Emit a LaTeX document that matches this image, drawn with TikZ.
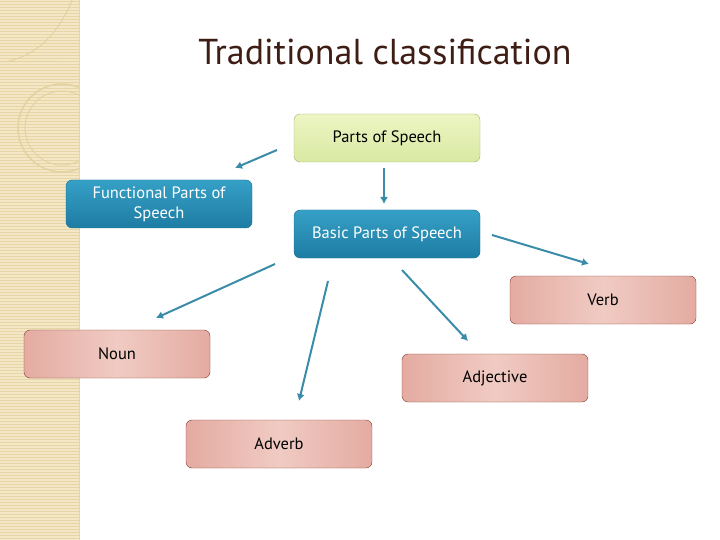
\documentclass[tikz,border=0pt]{standalone}
\usepackage{fontspec}
\setmainfont{PT Sans}
\usetikzlibrary{arrows.meta}
\definecolor{strip}{HTML}{F3E7C6}
\definecolor{stripline}{HTML}{E6D5A6}
\definecolor{ringcol}{HTML}{E4D2A0}
\definecolor{titlecol}{HTML}{3E1E14}
\definecolor{tealtop}{HTML}{36A0C6}
\definecolor{tealbot}{HTML}{1E7CA3}
\definecolor{tealedge}{HTML}{1C6E90}
\definecolor{greentop}{HTML}{EDF5C4}
\definecolor{greenbot}{HTML}{D9E9A2}
\definecolor{greenedge}{HTML}{A3B46A}
\definecolor{pinkside}{HTML}{E4ABA1}
\definecolor{pinkmid}{HTML}{F0CBC3}
\definecolor{pinkedge}{HTML}{7E3E2E}
\definecolor{arrowcol}{HTML}{3A8CA8}
\tikzset{
  box/.style={rounded corners=6pt, minimum width=186pt, minimum height=48pt,
    inner sep=2pt, font=\fontsize{16.5}{21}\selectfont, align=center},
  rootbox/.style={box, draw=greenedge, top color=greentop, bottom color=greenbot},
  groupbox/.style={box, draw=tealedge, top color=tealtop, bottom color=tealbot, text=white},
  wordbox/.style={box, draw=pinkedge, left color=pinkside, right color=pinkside,
    middle color=pinkmid},
  link/.style={draw=arrowcol, line width=2pt, -{Latex[length=7pt,width=8pt]}}
}
\begin{document}
\begin{tikzpicture}[x=1pt,y=-1pt]
	\useasboundingbox (0,0) rectangle (720,540);
	% left strip
	\fill[strip] (0,0) rectangle (79,540);
	\foreach \y in {1,4,...,540} \draw[stripline,line width=0.8pt] (0,\y) -- (79,\y);
	\begin{scope}
		\clip (0,0) rectangle (79,540);
		\draw[ringcol,line width=1.5pt] (62,128) circle (44);
		\draw[ringcol,line width=1pt] (62,128) circle (37);
		\draw[ringcol,line width=1pt] (5,62) .. controls (40,55) and (60,30) .. (72,0);
		\draw[ringcol,line width=1pt] (0,62) -- (60,62);
	\end{scope}
	\draw[stripline,line width=1pt] (79,0) -- (79,540);
	% title
	\node[text=titlecol,font=\fontsize{36}{42}\selectfont] (title) at (385,52) {Traditional classification};
	% boxes
	\node[rootbox] (pos) at (387,138) {Parts of Speech};
	\node[groupbox] (func) at (159,204) {Functional Parts of\\[-1pt]Speech};
	\node[groupbox] (basic) at (387,234) {Basic Parts of Speech};
	\node[wordbox] (verb) at (603,300) {Verb};
	\node[wordbox] (noun) at (117,354) {Noun};
	\node[wordbox] (adj) at (495,378) {Adjective};
	\node[wordbox] (adv) at (279,444) {Adverb};
	% arrow ends
	\coordinate (a1) at (277,150); \coordinate (b1) at (235,168);
	\coordinate (a2) at (384,168); \coordinate (b2) at (384,204);
	\coordinate (a3) at (492,235); \coordinate (b3) at (589,264);
	\coordinate (a4) at (275,264); \coordinate (b4) at (156,318);
	\coordinate (a5) at (328,281); \coordinate (b5) at (299,401);
	\coordinate (a6) at (402,270); \coordinate (b6) at (468,341);
	\foreach \i in {1,...,6} \draw[link] (a\i) -- (b\i);
\end{tikzpicture}
\end{document}
